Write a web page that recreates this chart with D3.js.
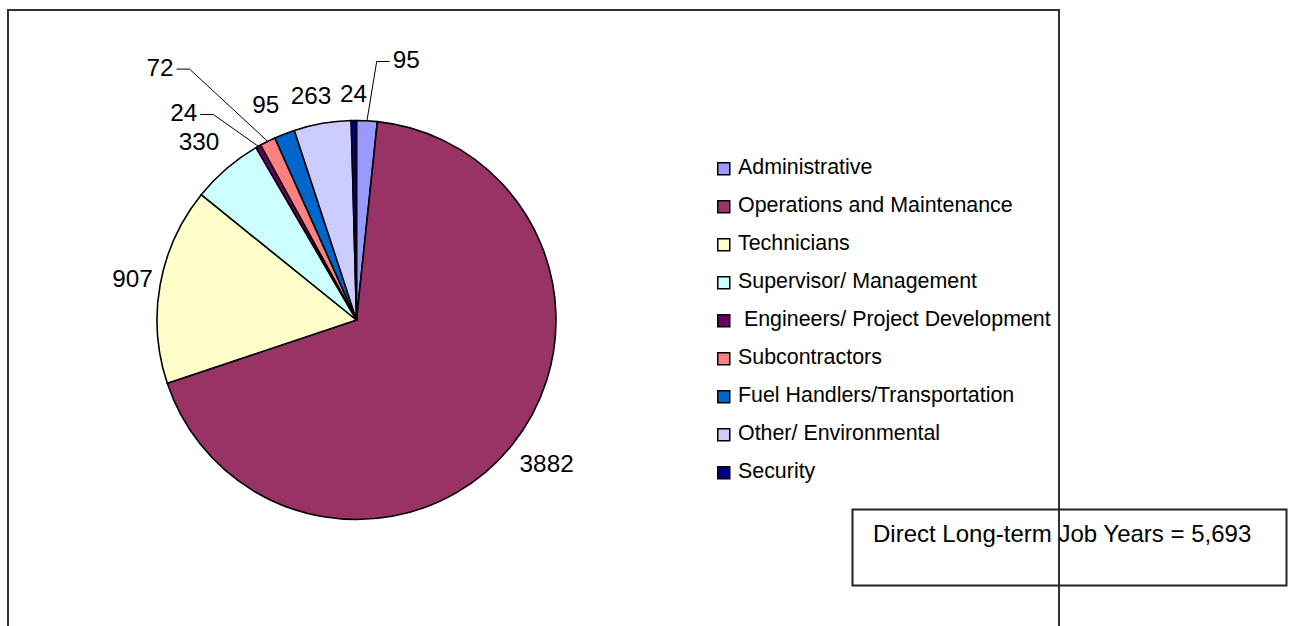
<!DOCTYPE html>
<html>
<head>
<meta charset="utf-8">
<script src="https://cdn.jsdelivr.net/npm/d3@7"></script>
<style>
  html, body { margin: 0; padding: 0; background: #fff; }
  svg { display: block; font-family: "Liberation Sans", Arial, sans-serif; }
</style>
</head>
<body>
<svg id="chart" width="1290" height="626"></svg>
<script>
// ---- data ----
const categories = [
  "Administrative",
  "Operations and Maintenance",
  "Technicians",
  "Supervisor/ Management",
  " Engineers/ Project Development",
  "Subcontractors",
  "Fuel Handlers/Transportation",
  "Other/ Environmental",
  "Security"
];
const values = [95, 3882, 907, 330, 24, 72, 95, 263, 24];
const totalLabel = "Direct Long-term Job Years = 5,693";

// ---- styles / layout ----
const colors = ["#9999FF", "#993366", "#FFFFCC", "#CCFFFF", "#660066",
                "#FF8080", "#0066CC", "#CCCCFF", "#000080"];
// label nudges: angle delta (deg) from slice mid-angle, distance beyond pie edge, leader line flag
const labelNudge = [
  {da: 7.8,  gap: 65.7, leader: true},
  {da: -1.8, gap: 38.5},
  {da: 0.4,  gap: 28.4},
  {da: -0.8, gap: 38.4},
  {da: -10.3, gap: 70.5, leader: true},
  {da: -11.4, gap: 120.7, leader: true},
  {da: -1.6, gap: 34.8},
  {da: -1.6, gap: 30},
  {da: 0,    gap: 27}
];

const svg = d3.select("#chart");
const cx = 356.5, cy = 320, R = 199.5;

// chart frame
svg.append("rect")
  .attr("x", 8).attr("y", 10).attr("width", 1051).attr("height", 720)
  .attr("fill", "none").attr("stroke", "#333").attr("stroke-width", 2);

const color = d3.scaleOrdinal().domain(categories).range(colors);
const pie = d3.pie().sort(null).value(d => d.value).startAngle(0).endAngle(2 * Math.PI);
const arc = d3.arc().innerRadius(0).outerRadius(R);
const data = categories.map((c, i) => ({cat: c, value: values[i], i}));
const arcs = pie(data);

const g = svg.append("g").attr("transform", `translate(${cx},${cy})`);
g.selectAll("path.slice").data(arcs).join("path")
  .attr("class", "slice")
  .attr("d", arc)
  .attr("fill", d => color(d.data.cat))
  .attr("stroke", "#000").attr("stroke-width", 1.6)
  .attr("stroke-linejoin", "round");

// labels
const fs = 24.3;
arcs.forEach((a, i) => {
  const nud = labelNudge[i];
  const mid = (a.startAngle + a.endAngle) / 2;
  const ang = mid + nud.da * Math.PI / 180;
  const r = R + nud.gap;
  const lx = r * Math.sin(ang), ly = -r * Math.cos(ang);
  const t = g.append("text")
    .attr("x", lx).attr("y", ly + fs * 0.358)
    .attr("text-anchor", "middle")
    .attr("font-size", fs)
    .attr("fill", "#000")
    .text(d3.format("d")(a.data.value));
  if (nud.leader) {
    const w = t.node().getComputedTextLength();
    const px = R * Math.sin(mid), py = -R * Math.cos(mid);
    const ey = ly + 2;
    let ex, hx;
    if (lx < px) { hx = lx + w / 2 + 3; ex = hx + 13; }
    else { hx = lx - w / 2 - 3; ex = hx - 13; }
    g.append("polyline")
      .attr("points", `${px},${py} ${ex},${ey} ${hx},${ey}`)
      .attr("fill", "none").attr("stroke", "#000").attr("stroke-width", 1);
  }
});

// legend
const legend = svg.append("g").attr("transform", "translate(717,161)");
const rows = legend.selectAll("g").data(categories).join("g")
  .attr("transform", (d, i) => `translate(0,${i * 38})`);
rows.append("rect")
  .attr("x", 0.75).attr("y", 1.75).attr("width", 12).attr("height", 12)
  .attr("fill", d => color(d)).attr("stroke", "#000").attr("stroke-width", 1.5);
rows.append("text")
  .attr("x", 21).attr("y", 12.5)
  .attr("font-size", 21.4)
  .style("white-space", "pre")
  .attr("fill", "#000")
  .text(d => d);

// total text box
svg.append("rect")
  .attr("x", 852.5).attr("y", 509.5).attr("width", 434).attr("height", 76)
  .attr("fill", "none").attr("stroke", "#222").attr("stroke-width", 2);
svg.append("text")
  .attr("x", 873).attr("y", 542)
  .attr("font-size", 24).attr("fill", "#000")
  .text(totalLabel);
</script>
</body>
</html>
